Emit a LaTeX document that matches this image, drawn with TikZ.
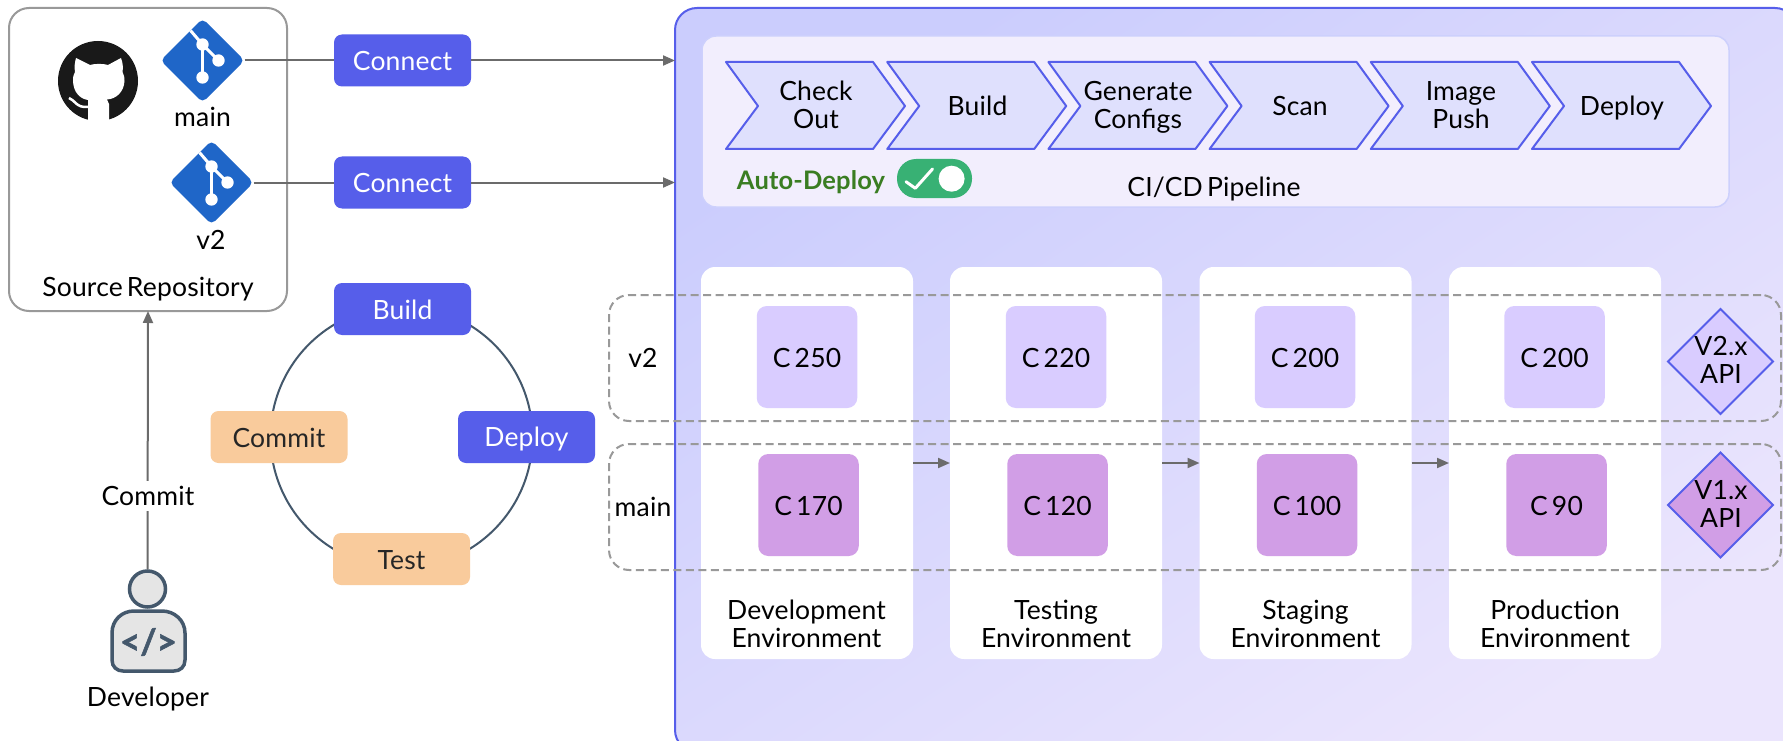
\documentclass[tikz,border=0pt]{standalone}
\usepackage{fontspec}
\setmainfont{Lato}[WordSpace=0.6,LetterSpace=0.6]
\newfontfamily\codefont{Lato}[BoldFeatures={FakeBold=1.6}]
\usetikzlibrary{arrows.meta,shapes.geometric,shadings}
\definecolor{ind}{HTML}{565EEA}
\definecolor{peach}{HTML}{F9CB9C}
\definecolor{lilac}{HTML}{D9CCFF}
\definecolor{mauve}{HTML}{D19EE6}
\definecolor{gitblue}{HTML}{1F66C8}
\definecolor{slate}{HTML}{44586C}
\definecolor{conn}{HTML}{6B6B6B}
\definecolor{dashg}{HTML}{999999}
\definecolor{panA}{HTML}{CBCDFD}
\definecolor{panB}{HTML}{EBE5FD}
\definecolor{chev}{HTML}{DFE0FD}
\definecolor{pipe}{HTML}{F2EEFD}
\definecolor{pipeb}{HTML}{CDD0FC}
\definecolor{autog}{HTML}{3A7D22}
\definecolor{togg}{HTML}{38B174}
\newcommand\tst{\rule[-4pt]{0pt}{28pt}}
\newcommand\gitmark[3]{%
  \node[gitd] (#1) at (#2,#3) {};
  \begin{scope}[shift={(#2,#3)}]
    \draw[white,line width=3pt] (-12,-30) -- (0,-16) -- (16,0);
    \draw[white,line width=3pt] (0,-16) -- (0,17);
    \fill[white] (0,-16) circle[radius=6.2] (16,0) circle[radius=6.2] (0,17) circle[radius=6.2];
  \end{scope}}
\tikzset{
  txt/.style={inner sep=0pt,outer sep=0pt,align=center,text=black,font=\fontsize{26.5}{28}\selectfont,execute at begin node=\tst,execute at end node=\tst},
  solid box/.style={txt,rounded corners=8pt,minimum width=137pt,minimum height=52pt},
  bluebox/.style={solid box,fill=ind,text=white},
  peachbox/.style={solid box,fill=peach,text=black!85},
  envcard/.style={inner sep=0pt,outer sep=0pt,fill=white,rounded corners=14pt,minimum width=212pt,minimum height=392pt},
  cbox/.style={txt,rounded corners=10pt,minimum width=100.5pt,minimum height=102pt},
  flow/.style={draw=conn,line width=2pt,-{Triangle[length=12pt,width=10pt]}},
  plainline/.style={draw=conn,line width=2pt},
  group/.style={draw=dashg,line width=2pt,dash pattern=on 8pt off 4.5pt,rounded corners=20pt},
  gitd/.style={diamond,aspect=1,fill=gitblue,inner sep=0pt,outer sep=0pt,minimum width=84pt,minimum height=84pt,rounded corners=5pt},
  api/.style={diamond,aspect=1,draw=ind,line width=2pt,inner sep=0pt,outer sep=0pt,minimum width=105pt,minimum height=105pt},
}
\begin{document}
\begin{tikzpicture}[x=1pt,y=-1pt]
\useasboundingbox (0,0) rectangle (1783,741);
\fill[white] (0,0) rectangle (1783,741);
% panel
\node[outer sep=0pt,inner sep=0pt,draw=ind,line width=2pt,rounded corners=22pt,top color=panA,bottom color=panB,shading angle=33.5,minimum width=1122pt,minimum height=744pt] (panel) at (1236,380) {};
% source
\node[outer sep=0pt,inner sep=0pt,draw=dashg,line width=2pt,rounded corners=20pt,minimum width=278pt,minimum height=303pt] (src) at (148,159.5) {};
% github logo
\fill[black!90] (98,81) circle[radius=40];
\fill[white] (76,58) -- (90,65) .. controls (95,63.5) and (103,63.5) .. (108,65) -- (121,58) .. controls (122.5,62) and (123.5,67) .. (122.5,72) .. controls (124,75) and (124.5,77) .. (124.5,81) .. controls (124,92) and (116,99) .. (107,99.5) -- (109,104) -- (109,123) -- (88,123) -- (88,100) .. controls (80,99) and (73,92) .. (73,80) .. controls (73,76) and (74,74) .. (75,72) .. controls (74,67) and (75,62) .. (76,58) -- cycle;
\draw[white,line width=2.5pt] (69,98) .. controls (75,100) and (76,108) .. (88,107);
% git marks
\gitmark{gmain}{202.5}{60.5}
\gitmark{gvtwo}{211.5}{182.5}
\node[txt] (lmain) at (202.5,117) {main};
\node[txt] (lvtwo) at (211,239) {v2};
\node[txt] (lsrc) at (148,287) {Source Repository};
% connect
\node[bluebox] (cone) at (402.5,60.5) {Connect};
\node[bluebox] (ctwo) at (402.5,182.5) {Connect};
\draw[plainline] (gmain.east) -- (cone.west);
\draw[plainline] (gvtwo.east) -- (ctwo.west);
\draw[flow] (cone.east) -- (panel.west |- cone.east);
\draw[flow] (ctwo.east) -- (panel.west |- ctwo.east);
% cycle
\node[circle,draw=slate,line width=2pt,inner sep=0pt,minimum size=262pt] (ring) at (401.5,437) {};
\node[bluebox] (nbuild) at (402.5,309) {Build};
\node[bluebox] (ndeploy) at (526.5,437) {Deploy};
\node[peachbox] (ncommit) at (279,437) {Commit};
\node[peachbox] (ntest) at (401.5,559) {Test};
% developer
\node[circle,draw=slate,fill=black!10,line width=3.5pt,inner sep=0pt,minimum size=36pt] (head) at (147.5,589) {};
\draw[slate,fill=black!10,line width=3.5pt] (112,660) -- (112,633) .. controls (112,620) and (122,611) .. (134,611) -- (162,611) .. controls (174,611) and (185,620) .. (185,633) -- (185,660) .. controls (185,667) and (180,671) .. (174,671) -- (123,671) .. controls (117,671) and (112,667) .. (112,660) -- cycle;
\node[inner sep=0pt,outer sep=0pt,text=slate,font=\codefont\fontsize{35}{35}\bfseries\selectfont] (code) at (148.5,642) {</>};
\node[txt] (ldev) at (148,697) {Developer};
\draw[flow] (head.north) -- (src.south);
\node[txt,fill=white,inner ysep=1pt,inner xsep=4pt] (lcommit) at (148,495.5) {Commit};
% pipeline
\node[outer sep=0pt,inner sep=0pt,draw=pipeb,fill=pipe,line width=1.5pt,rounded corners=14pt,minimum width=1027pt,minimum height=171pt] (pipeline) at (1215.5,121.5) {};
\foreach \l in {726,887.2,1048.4,1209.6,1370.8,1532}{
  \draw[ind,line width=2pt,fill=chev,line join=round] (\l,62) -- ++(147,0) -- ++(32,44) -- ++(-32,43) -- ++(-147,0) -- ++(32,-43) -- cycle;
}
\node[txt] (s1) at (816,107) {Check\\Out};
\node[txt] (s2) at (977.5,106) {Build};
\node[txt] (s3) at (1138,107) {Generate\\Configs};
\node[txt] (s4) at (1300,106) {Scan};
\node[txt] (s5) at (1461,107) {Image\\Push};
\node[txt] (s6) at (1622,106) {Deploy};
\node[txt,text=autog,font=\fontsize{25.5}{28}\bfseries\selectfont] (auto) at (811,179.5) {Auto-Deploy};
\node[fill=togg,rounded corners=19pt,minimum width=75pt,minimum height=39pt,inner sep=0pt,outer sep=0pt] (tog) at (934.5,178.5) {};
\fill[white] (951.6,178.7) circle[radius=13];
\draw[white,line width=3pt,line cap=round,line join=round] (906,181.7) -- (915.3,188.3) -- (932.5,169);
\node[txt] (lpipe) at (1214,187) {CI/CD Pipeline};
% environment cards
\node[envcard] (eone) at (807,463) {};
\node[envcard] (etwo) at (1056,463) {};
\node[envcard] (ethree) at (1305.5,463) {};
\node[envcard] (efour) at (1555,463) {};
\coordinate (flowy) at (0,463);
\draw[flow] (eone.east |- flowy) -- (etwo.west |- flowy);
\draw[flow] (etwo.east |- flowy) -- (ethree.west |- flowy);
\draw[flow] (ethree.east |- flowy) -- (efour.west |- flowy);
\node[txt] (d1) at (806.5,626) {Development\\Environment};
\node[txt] (d2) at (1056,626) {Testing\\Environment};
\node[txt] (d3) at (1305.5,626) {Staging\\Environment};
\node[txt] (d4) at (1555,626) {Production\\Environment};
% groups
\node[group,inner sep=0pt,outer sep=0pt,minimum width=1172pt,minimum height=126pt] (gv) at (1195,358) {};
\node[group,inner sep=0pt,outer sep=0pt,minimum width=1172pt,minimum height=126pt] (gm) at (1195,507) {};
\node[txt] (lgv) at (643,357) {v2};
\node[txt] (lgm) at (643,506.5) {main};
% C boxes
\node[cbox,fill=lilac] (a1) at (807,357) {C 250};
\node[cbox,fill=lilac] (a2) at (1056,357) {C 220};
\node[cbox,fill=lilac] (a3) at (1305,357) {C 200};
\node[cbox,fill=lilac] (a4) at (1554.5,357) {C 200};
\node[cbox,fill=mauve] (b1) at (808.5,505) {C 170};
\node[cbox,fill=mauve] (b2) at (1057.5,505) {C 120};
\node[cbox,fill=mauve] (b3) at (1307,505) {C 100};
\node[cbox,fill=mauve] (b4) at (1556.5,505) {C 90};
% API diamonds
\node[api,fill=lilac] (pv) at (1720.5,361.5) {};
\node[api,fill=mauve] (pw) at (1720.5,505) {};
\node[txt] (tv) at (1721,362) {V2.x\\API};
\node[txt] (tw) at (1721,505.5) {V1.x\\API};
\end{tikzpicture}
\end{document}
